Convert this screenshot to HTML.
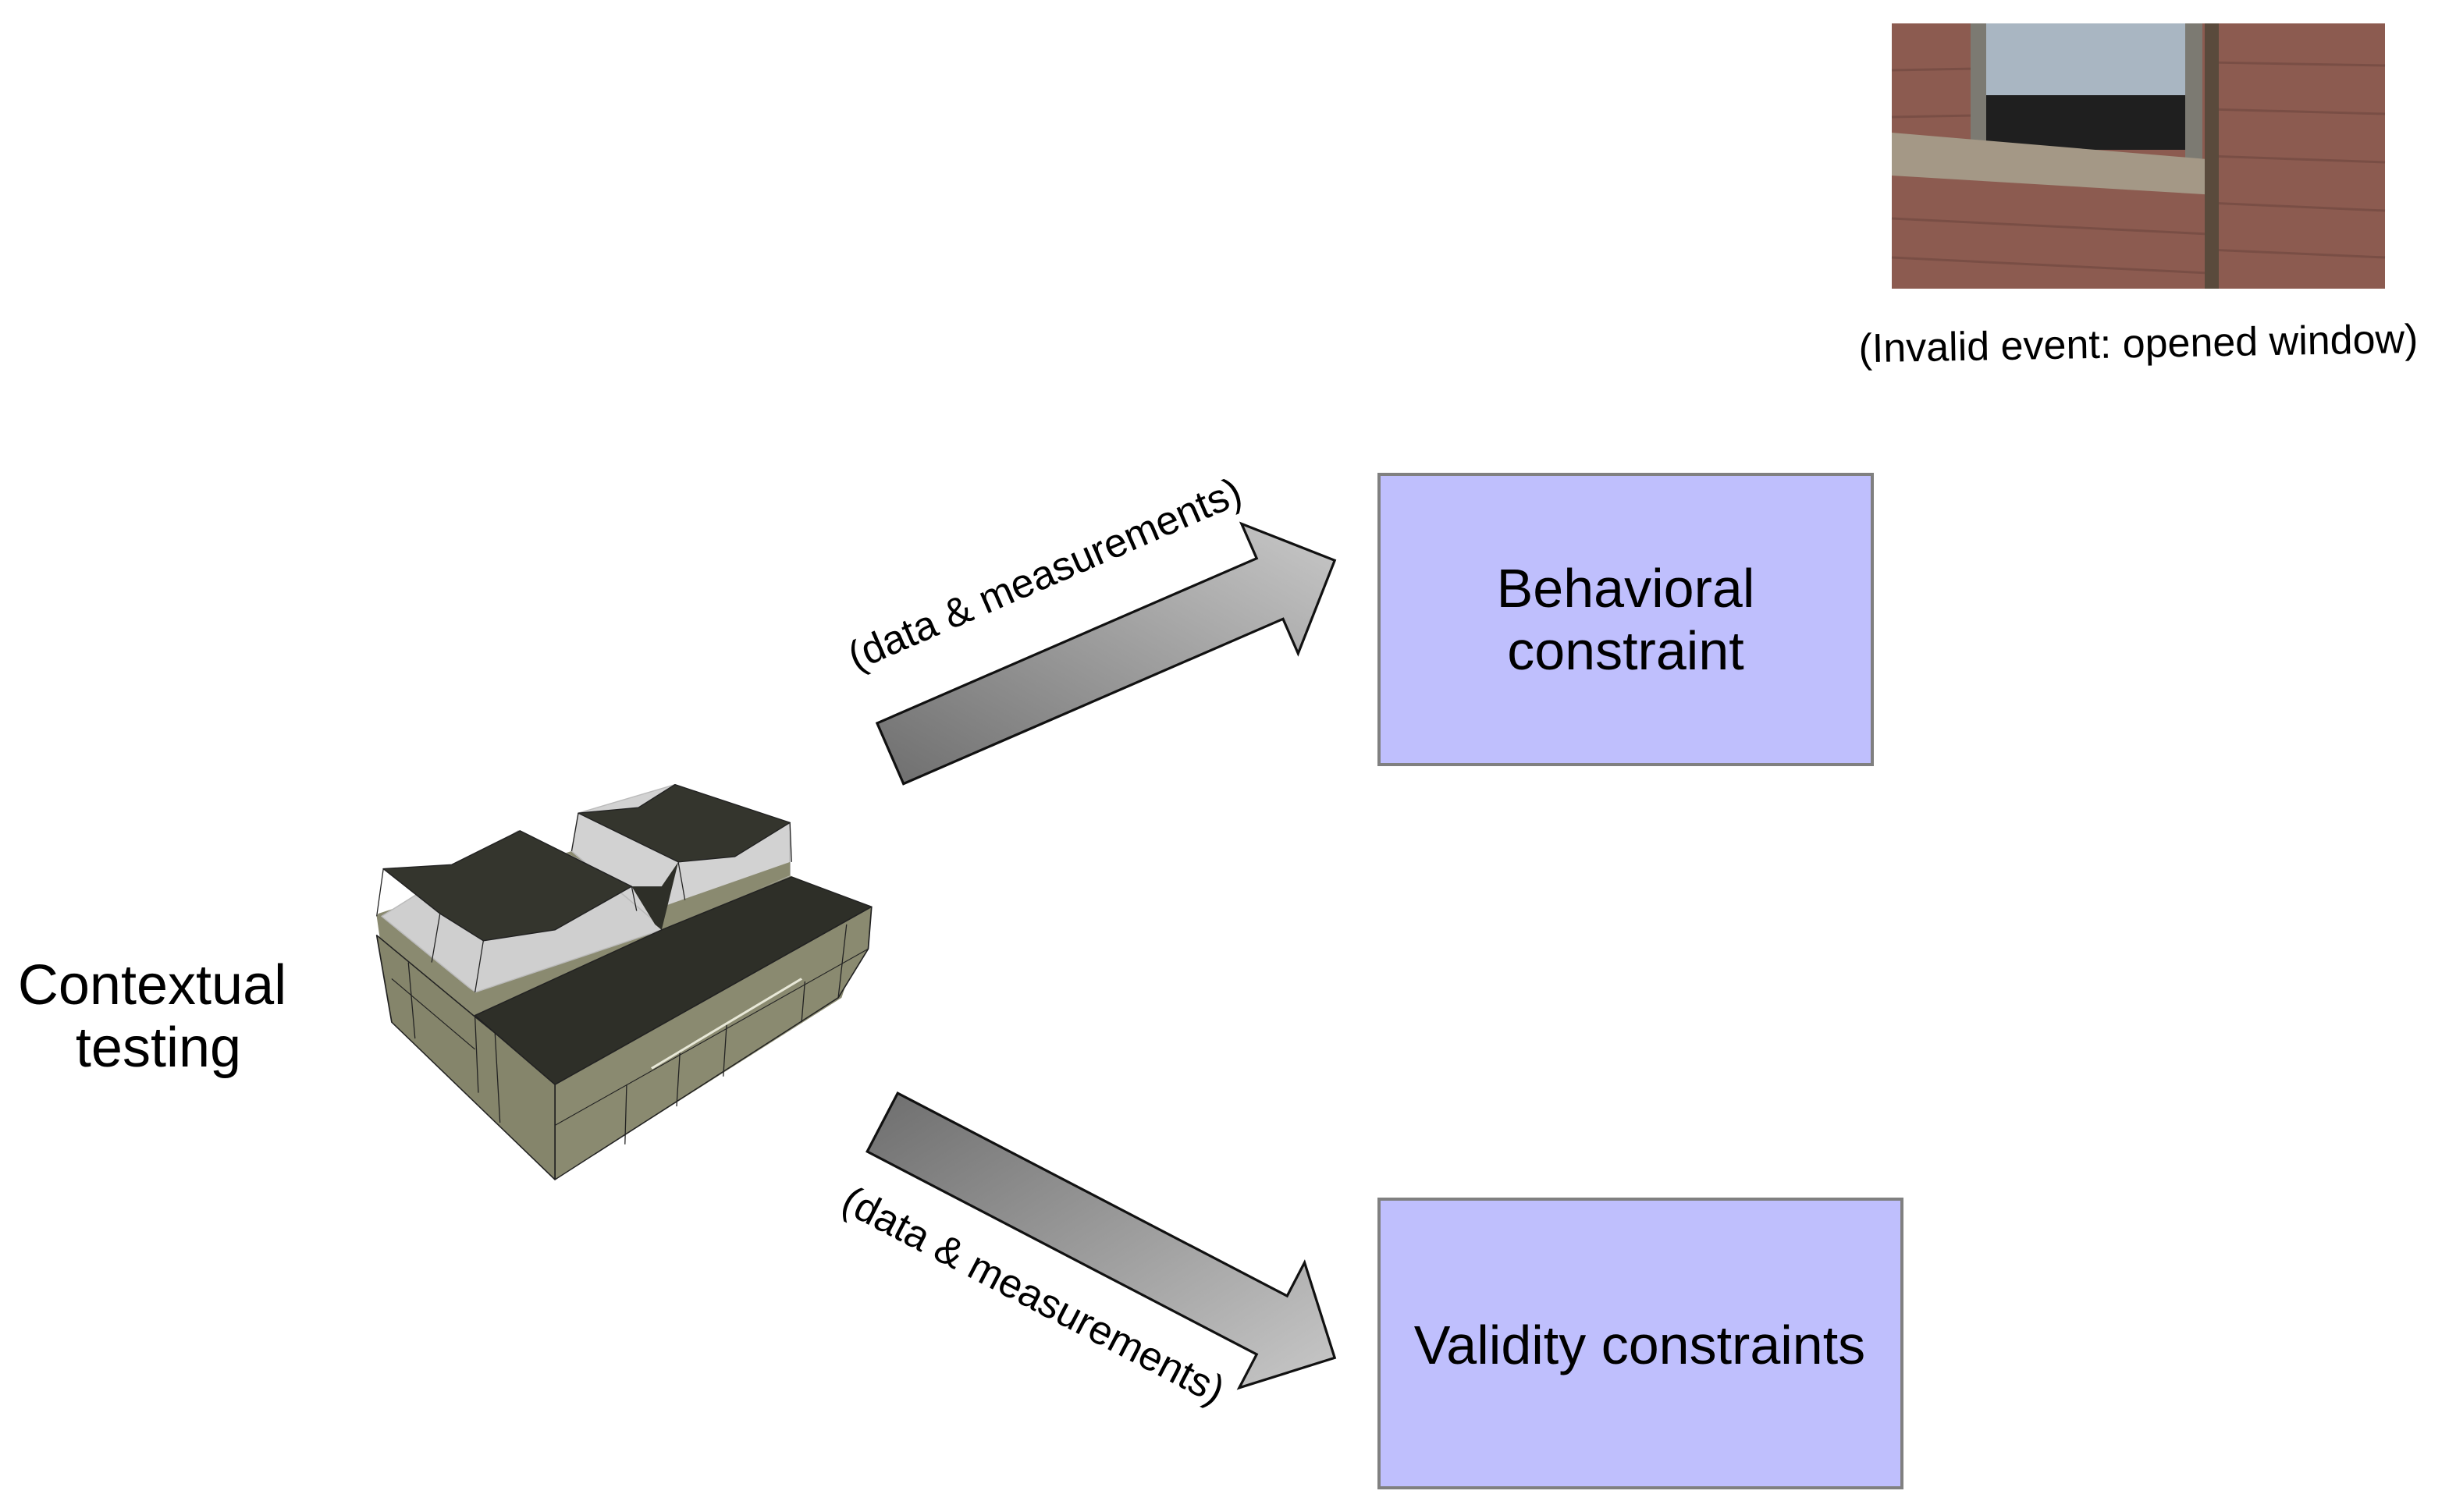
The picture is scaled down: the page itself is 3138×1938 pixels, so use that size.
<!DOCTYPE html>
<html><head><meta charset="utf-8"><style>
html,body{margin:0;padding:0;background:#fff;}
svg{display:block;}
text{font-family:"Liberation Sans",Helvetica,Arial,sans-serif;fill:#000;}
</style></head><body>
<svg width="3138" height="1938" viewBox="0 0 3138 1938" xmlns="http://www.w3.org/2000/svg">
<defs>
<linearGradient id="g1" x1="0" y1="1" x2="1" y2="0"><stop offset="0" stop-color="#6e6e6e"/><stop offset="1" stop-color="#c8c8c8"/></linearGradient>
<linearGradient id="g2" x1="0" y1="0" x2="1" y2="1"><stop offset="0" stop-color="#6e6e6e"/><stop offset="1" stop-color="#c8c8c8"/></linearGradient>
</defs>
<rect width="3138" height="1938" fill="#fff"/>

<!-- window photo -->
<g>
<rect x="2424" y="30" width="632" height="340" fill="#8c5b50"/>
<g stroke="#6e463e" stroke-width="3" opacity="0.6">
<line x1="2424" y1="90" x2="2530" y2="88"/><line x1="2424" y1="150" x2="2530" y2="148"/>
<line x1="2830" y1="80" x2="3056" y2="84"/><line x1="2830" y1="140" x2="3056" y2="146"/><line x1="2830" y1="200" x2="3056" y2="208"/><line x1="2830" y1="260" x2="3056" y2="270"/><line x1="2830" y1="320" x2="3056" y2="330"/>
<line x1="2424" y1="280" x2="2830" y2="300"/><line x1="2424" y1="330" x2="2830" y2="350"/>
</g>
<rect x="2530" y="30" width="290" height="150" fill="#5d6068"/>
<rect x="2545" y="30" width="262" height="92" fill="#a9b6c2"/>
<rect x="2545" y="122" width="262" height="70" fill="#1f1f1f"/>
<rect x="2525" y="30" width="20" height="180" fill="#7c7a72"/>
<rect x="2800" y="30" width="22" height="180" fill="#7c7a72"/>
<polygon points="2424,170 2840,205 2840,250 2424,225" fill="#a49886"/>
<rect x="2825" y="30" width="18" height="340" fill="#5a4a3c"/>
</g>
<text x="2740" y="458" font-size="52" text-anchor="middle" transform="rotate(-1 2740 445)">(Invalid event: opened window)</text>

<!-- boxes -->
<rect x="1767" y="608" width="632" height="372" fill="#bfbffd" stroke="#808080" stroke-width="4"/>
<text x="2083" y="778" font-size="70" text-anchor="middle">Behavioral</text>
<text x="2083" y="858" font-size="70" text-anchor="middle">constraint</text>
<rect x="1767" y="1537" width="670" height="370" fill="#bfbffd" stroke="#808080" stroke-width="4"/>
<text x="2101" y="1748" font-size="70" text-anchor="middle">Validity constraints</text>

<text x="195" y="1287" font-size="72" text-anchor="middle">Contextual</text>
<text x="203" y="1367" font-size="72" text-anchor="middle">testing</text>

<!-- arrows -->
<g transform="scale(2.012)">
<polygon points="558.6,460.7 800.3,355.7 790.7,333.7 850,357 826.7,416.3 817.1,394.3 575.4,499.3" fill="url(#g1)" stroke="#111" stroke-width="1.6" stroke-linejoin="miter"/>
<polygon points="571.7,696.4 819.7,825.6 830.8,804.3 850,865 789.2,884.1 800.3,862.8 552.3,733.6" fill="url(#g2)" stroke="#111" stroke-width="1.6"/>
</g>
<text x="1344" y="752" font-size="52" text-anchor="middle" transform="rotate(-23.5 1344 748)">(data &amp; measurements)</text>
<text x="1318" y="1676" font-size="52" text-anchor="middle" transform="rotate(27.5 1318 1672)">(data &amp; measurements)</text>

<!-- building -->
<g transform="translate(472,990) scale(0.427,0.348)" stroke="#222" stroke-width="4" stroke-linejoin="round">
<polygon points="25,530 70,920 560,1500 1420,830 1510,495 1265,380 1265,190 920,45 630,150 610,290 30,520" fill="#8a8a70" stroke="none"/>
<polygon points="40,530 320,810 880,580 800,420 450,215" fill="#cfcfcf" stroke="#bbb"/>
<polygon points="610,290 880,570 1265,380 1265,190 920,45 630,150" fill="#d2d2d2" stroke="#bbb"/>
<polygon points="70,600 320,810 320,900 70,700" fill="#8a8a70" stroke="none"/>
<polygon points="880,580 1265,380 1265,330 870,500" fill="#8a8a70" stroke="none"/>
<polygon points="45,355 250,340 455,215 790,420 560,580 345,620 215,520" fill="#34352d"/>
<polygon points="630,150 810,130 920,45 1265,185 1100,310 930,330" fill="#34352d"/>
<polygon points="790,420 860,560 880,580 930,330 880,420" fill="#2e2f28" stroke="none"/>
<polygon points="320,895 880,580 1270,385 1510,495 560,1150 380,960" fill="#2e2f28"/>
<polygon points="560,1150 1510,495 1500,650 1410,830 560,1500" fill="#8a8a70"/>
<polygon points="25,600 320,900 380,960 560,1150 560,1500 70,920" fill="#85856b"/>
<g fill="none" stroke="#222" stroke-width="3">
<line x1="45" y1="355" x2="25" y2="530"/><line x1="215" y1="520" x2="190" y2="700"/><line x1="345" y1="620" x2="320" y2="810"/><line x1="790" y1="420" x2="805" y2="510"/>
<line x1="630" y1="150" x2="610" y2="290"/><line x1="930" y1="330" x2="950" y2="470"/><line x1="1265" y1="185" x2="1270" y2="330"/>
<line x1="560" y1="1300" x2="1500" y2="650"/><line x1="70" y1="760" x2="320" y2="1020"/>
<line x1="775" y1="1150" x2="770" y2="1370"/><line x1="935" y1="1030" x2="925" y2="1230"/><line x1="1075" y1="930" x2="1065" y2="1120"/><line x1="1310" y1="770" x2="1300" y2="920"/><line x1="1435" y1="560" x2="1410" y2="830"/>
<line x1="120" y1="700" x2="140" y2="980"/><line x1="320" y1="900" x2="330" y2="1180"/><line x1="380" y1="960" x2="395" y2="1290"/>
</g>
<line x1="850" y1="1090" x2="1300" y2="760" stroke="#e8e8d8" stroke-width="8"/>
</g>
</svg>
</body></html>
